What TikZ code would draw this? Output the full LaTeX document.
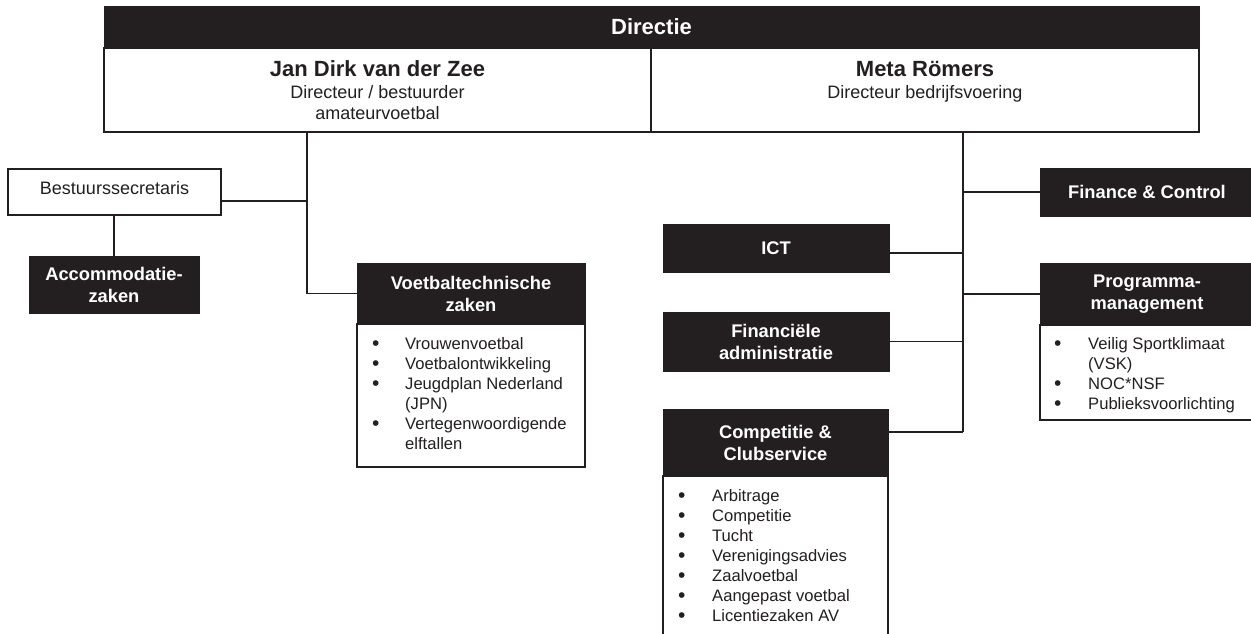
\documentclass[tikz,border=0pt]{standalone}
\usepackage{fontspec}
\setmainfont{Liberation Sans}
\definecolor{ink}{HTML}{231F20}
\newcommand{\blt}{\raisebox{-1pt}{\fontsize{21}{20}\selectfont •}}
\begin{document}
\begin{tikzpicture}[x=1pt,y=-1pt,
  conn/.style={draw=ink,line width=1.1pt},
  dark/.style={fill=ink,draw=ink,line width=0.8pt,text=white,font=\bfseries\fontsize{18.3}{22}\selectfont,align=center,inner sep=0pt},
  wbox/.style={draw=ink,line width=1.1pt,fill=white,inner sep=0pt},
  bigname/.style={anchor=base,inner sep=0pt,text=ink,font=\bfseries\fontsize{22}{26}\selectfont},
  role/.style={anchor=base,inner sep=0pt,text=ink,font=\fontsize{18}{22}\selectfont},
  listtxt/.style={anchor=north west,inner sep=0pt,text=ink,font=\fontsize{16.6}{20}\selectfont}
]
\clip (0,0) rectangle (1251,633);
\fill[white] (0,0) rectangle (1251,633);

% top block
\node[dark,minimum width=1095pt,minimum height=42pt,font=\bfseries\fontsize{22}{26}\selectfont] (dir) at (651.5,27) {Directie};
\node[wbox,minimum width=547pt,minimum height=84pt] (jan) at (377.5,90) {};
\node[wbox,minimum width=548pt,minimum height=84pt] (meta) at (925,90) {};
\node[bigname] (janname) at (377.5,76) {Jan Dirk van der Zee};
\node[role] (janrole1) at (377.5,98.5) {Directeur / bestuurder};
\node[role] (janrole2) at (377.5,119.5) {amateurvoetbal};
\node[bigname] (metaname) at (925,76) {Meta Römers};
\node[role] (metarole) at (925,98.5) {Directeur bedrijfsvoering};

% left branch
\coordinate (jstem) at (307,293.5);
\node[wbox,minimum width=213pt,minimum height=46pt] (bsec) at (114.5,192) {};
\node[role] (bsectxt) at (114.5,194.5) {Bestuurssecretaris};
\node[dark,minimum width=170pt,minimum height=57pt] (accom) at (114,284.5) {Accommodatie-\\zaken};
\node[dark,minimum width=228pt,minimum height=61pt] (voet) at (471,293.5) {Voetbaltechnische\\zaken};
\node[wbox,minimum width=228pt,minimum height=143pt] (voetlist) at (471,395.5) {};
\node[listtxt] (voetitems) at (372,335) {\begin{tabular}{@{}p{33pt}@{}l@{}}
\blt & Vrouwenvoetbal\\
\blt & Voetbalontwikkeling\\
\blt & Jeugdplan Nederland\\
  & (JPN)\\
\blt & Vertegenwoordigende\\
  & elftallen
\end{tabular}};

\draw[conn] (jstem |- jan.south) -- (jstem) -- (voet.west);
\draw[conn] ([yshift=-9pt]bsec.east) -- ([yshift=-9pt]bsec.east -| jstem);
\draw[conn] (accom.north) -- (accom.north |- bsec.south);

% right branch
\coordinate (mstem) at (963,432);
\node[dark,minimum width=214pt,minimum height=48pt] (fin) at (1147,192) {Finance \& Control};
\node[dark,minimum width=226pt,minimum height=48pt] (ict) at (776,248) {ICT};
\node[dark,minimum width=214pt,minimum height=62pt] (prog) at (1147,294) {Programma-\\management};
\node[wbox,minimum width=214pt,minimum height=95pt] (proglist) at (1147,372.5) {};
\node[listtxt] (progitems) at (1054,335) {\begin{tabular}{@{}p{34pt}@{}l@{}}
\blt & Veilig Sportklimaat\\
  & (VSK)\\
\blt & NOC*NSF\\
\blt & Publieksvoorlichting
\end{tabular}};
\node[dark,minimum width=226pt,minimum height=59pt] (fadm) at (776,341.5) {Financiële\\administratie};
\node[dark,minimum width=225pt,minimum height=67pt] (comp) at (775.5,442.5) {Competitie \&\\Clubservice};
\node[wbox,minimum width=225pt,minimum height=170pt] (complist) at (775.5,561) {};
\node[listtxt] (compitems) at (678,487) {\begin{tabular}{@{}p{34pt}@{}l@{}}
\blt & Arbitrage\\
\blt & Competitie\\
\blt & Tucht\\
\blt & Verenigingsadvies\\
\blt & Zaalvoetbal\\
\blt & Aangepast voetbal\\
\blt & Licentiezaken AV
\end{tabular}};

\draw[conn] (mstem |- meta.south) -- (mstem);
\draw[conn] (fin.west) -- (fin.west -| mstem);
\draw[conn] ([yshift=-5pt]ict.east) -- ([yshift=-5pt]ict.east -| mstem);
\draw[conn] (prog.west) -- (prog.west -| mstem);
\draw[conn] (fadm.east) -- (fadm.east -| mstem);
\draw[conn] ([yshift=10.5pt]comp.east) -- (mstem);
\end{tikzpicture}
\end{document}
